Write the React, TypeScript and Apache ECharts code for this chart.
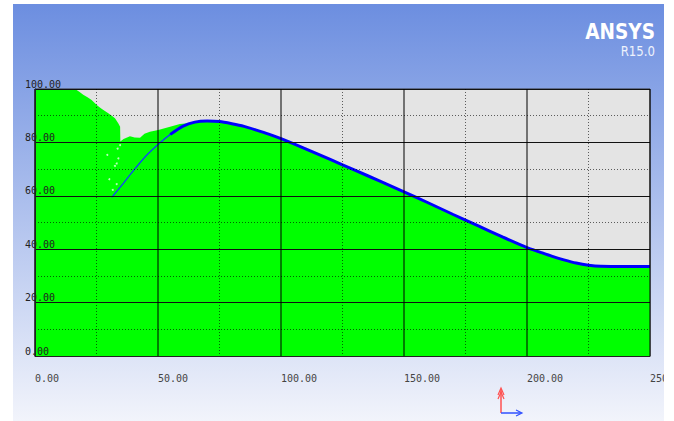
import React, { useEffect, useRef } from "react";
import * as echarts from "echarts";

// ---- data ----
const xTicks = [0, 50, 100, 150, 200, 250];
const yTicks = [0, 20, 40, 60, 80, 100];

// blue profile line
const lineX = [31.2, 35, 40, 45, 50, 55, 60, 65, 70, 75, 80, 85, 90, 95, 100, 110, 120, 130, 140, 150, 160, 170, 180, 190, 200, 205, 210, 215, 220, 225, 230, 240, 250];
const lineY = [59.4, 63.6, 69.4, 74.8, 79.2, 83.0, 86.0, 87.6, 88.0, 87.8, 87.0, 86.0, 84.6, 83.1, 81.4, 77.6, 73.6, 69.6, 65.6, 61.5, 57.3, 53.0, 48.8, 44.6, 40.6, 39.0, 37.4, 36.0, 34.8, 34.0, 33.6, 33.5, 33.5];

// upper edge of the green region left of the line's peak
const greenX = [0, 16.3, 18, 19.6, 21.5, 23.0, 25.1, 26.5, 27.8, 29.8, 31.2, 32.5, 33.9, 34.6, 34.7, 36.0, 38.6, 40.5, 42.7, 44.5, 46.7, 50.1, 54.9, 58.9, 62.0];
const greenY = [100, 100, 99.0, 97.8, 96.8, 95.9, 94.0, 93.0, 92.1, 90.9, 90.0, 89.0, 87.1, 85.9, 80.3, 81.3, 82.3, 81.8, 81.7, 83.2, 84.0, 84.6, 85.9, 86.9, 87.2];

// light speckles inside the green region
const speckX = [29.4, 33.2, 32.5, 33.9, 30.2, 33.2, 31.6, 34.6, 33.6];
const speckY = [75.3, 72.1, 71.2, 74.0, 66.2, 64.4, 62.2, 79.0, 77.7];

export default function App() {
  const ref = useRef<HTMLDivElement>(null);

  useEffect(() => {
    if (!ref.current) return;
    const chart = echarts.init(ref.current, undefined, { renderer: "svg" });

    const allPts = lineX.map((x, i) => [x, lineY[i]]);
    const thinPts = allPts.filter((p) => p[0] <= 60);
    const thickPts = allPts.filter((p) => p[0] >= 55);
    const greenPts = greenX
      .map((x, i) => [x, greenY[i]])
      .concat(allPts.filter((p) => p[0] > 62));
    const speckPts = speckX.map((x, i) => [x, speckY[i]]);

    const labelFont = '"DejaVu Sans Mono", monospace';

    chart.setOption({
      animation: false,
      backgroundColor: new echarts.graphic.LinearGradient(0, 0, 0, 1, [
        { offset: 0, color: "#6c8ee0" },
        { offset: 1, color: "#f2f4fb" },
      ]),
      grid: {
        left: 22,
        top: 85,
        width: 615,
        height: 267,
        outerBoundsMode: "none",
        containLabel: false,
        show: true,
        backgroundColor: "#e4e4e4",
        borderColor: "#333",
        borderWidth: 1,
      },
      xAxis: {
        type: "value",
        min: xTicks[0],
        max: xTicks[xTicks.length - 1],
        interval: 50,
        z: 3,
        axisLine: { show: true, lineStyle: { color: "#222", width: 1 } },
        axisTick: { show: false },
        axisLabel: {
          color: "#444",
          fontFamily: labelFont,
          fontSize: 10,
          align: "left",
          margin: 17,
          showMaxLabel: true,
          hideOverlap: false,
          formatter: (v: number) => v.toFixed(2),
        },
        splitLine: { show: true, lineStyle: { color: "rgba(0,0,0,0.5)", width: 2 } },
        minorTick: { show: false, splitNumber: 2 },
        minorSplitLine: { show: true, lineStyle: { color: "rgba(0,0,0,0.6)", width: 1, type: [1, 2] } },
      },
      yAxis: {
        type: "value",
        min: yTicks[0],
        max: yTicks[yTicks.length - 1],
        interval: 20,
        z: 3,
        axisLine: { show: true, lineStyle: { color: "#222", width: 1 } },
        axisTick: { show: false },
        axisLabel: {
          color: "#222",
          fontFamily: labelFont,
          fontSize: 10,
          align: "left",
          verticalAlign: "bottom",
          margin: 10,
          formatter: (v: number) => v.toFixed(2),
        },
        splitLine: { show: true, lineStyle: { color: "#111", width: 1 } },
        minorTick: { show: false, splitNumber: 2 },
        minorSplitLine: { show: true, lineStyle: { color: "rgba(0,0,0,0.6)", width: 1, type: [1, 2] } },
      },
      series: [
        {
          type: "line",
          data: greenPts,
          symbol: "none",
          z: 2,
          lineStyle: { width: 0 },
          areaStyle: { color: "#00ff00", opacity: 1 },
        },
        {
          type: "scatter",
          data: speckPts,
          symbolSize: 2,
          z: 2,
          itemStyle: { color: "#e8ffe8" },
        },
        {
          type: "line",
          data: thinPts,
          symbol: "none",
          smooth: 0.2,
          z: 2,
          lineStyle: { color: "#1040ff", width: 1.3 },
        },
        {
          type: "line",
          data: thickPts,
          symbol: "none",
          smooth: 0.2,
          z: 2,
          lineStyle: { color: "#0000ff", width: 3 },
        },
      ],
      graphic: [
        {
          type: "text",
          x: 642,
          y: 16,
          scaleX: 0.84,
          style: {
            text: "ANSYS",
            fill: "#ffffff",
            font: 'bold 22px "DejaVu Sans", sans-serif',
            align: "right",
            verticalAlign: "top",
          },
        },
        {
          type: "text",
          x: 642,
          y: 40,
          scaleX: 0.84,
          style: {
            text: "R15.0",
            fill: "#eef2fc",
            font: '14px "DejaVu Sans", sans-serif',
            align: "right",
            verticalAlign: "top",
          },
        },
        {
          type: "line",
          shape: { x1: 488, y1: 409, x2: 488, y2: 385 },
          style: { stroke: "#ff5050", lineWidth: 1.5 },
        },
        {
          type: "polyline",
          shape: { points: [[485, 391], [488, 384], [491, 391]] },
          style: { stroke: "#ff5050", lineWidth: 1.2, fill: "none" },
        },
        {
          type: "polyline",
          shape: { points: [[485, 395], [488, 388], [491, 395]] },
          style: { stroke: "#ff5050", lineWidth: 1.2, fill: "none" },
        },
        {
          type: "line",
          shape: { x1: 488, y1: 409, x2: 508, y2: 409 },
          style: { stroke: "#3050ff", lineWidth: 1.5 },
        },
        {
          type: "polyline",
          shape: { points: [[503, 406], [509, 409], [503, 412]] },
          style: { stroke: "#3050ff", lineWidth: 1.2, fill: "none" },
        },
      ],
    });

    return () => chart.dispose();
  }, []);

  return (
    <div
      style={{
        position: "fixed",
        left: 0,
        top: 0,
        width: 674,
        height: 421,
        background: "#ffffff",
        overflow: "hidden",
      }}
    >
      <div
        ref={ref}
        style={{
          position: "absolute",
          left: 13,
          top: 4,
          width: 651,
          height: 417,
          overflow: "hidden",
        }}
      />
    </div>
  );
}
